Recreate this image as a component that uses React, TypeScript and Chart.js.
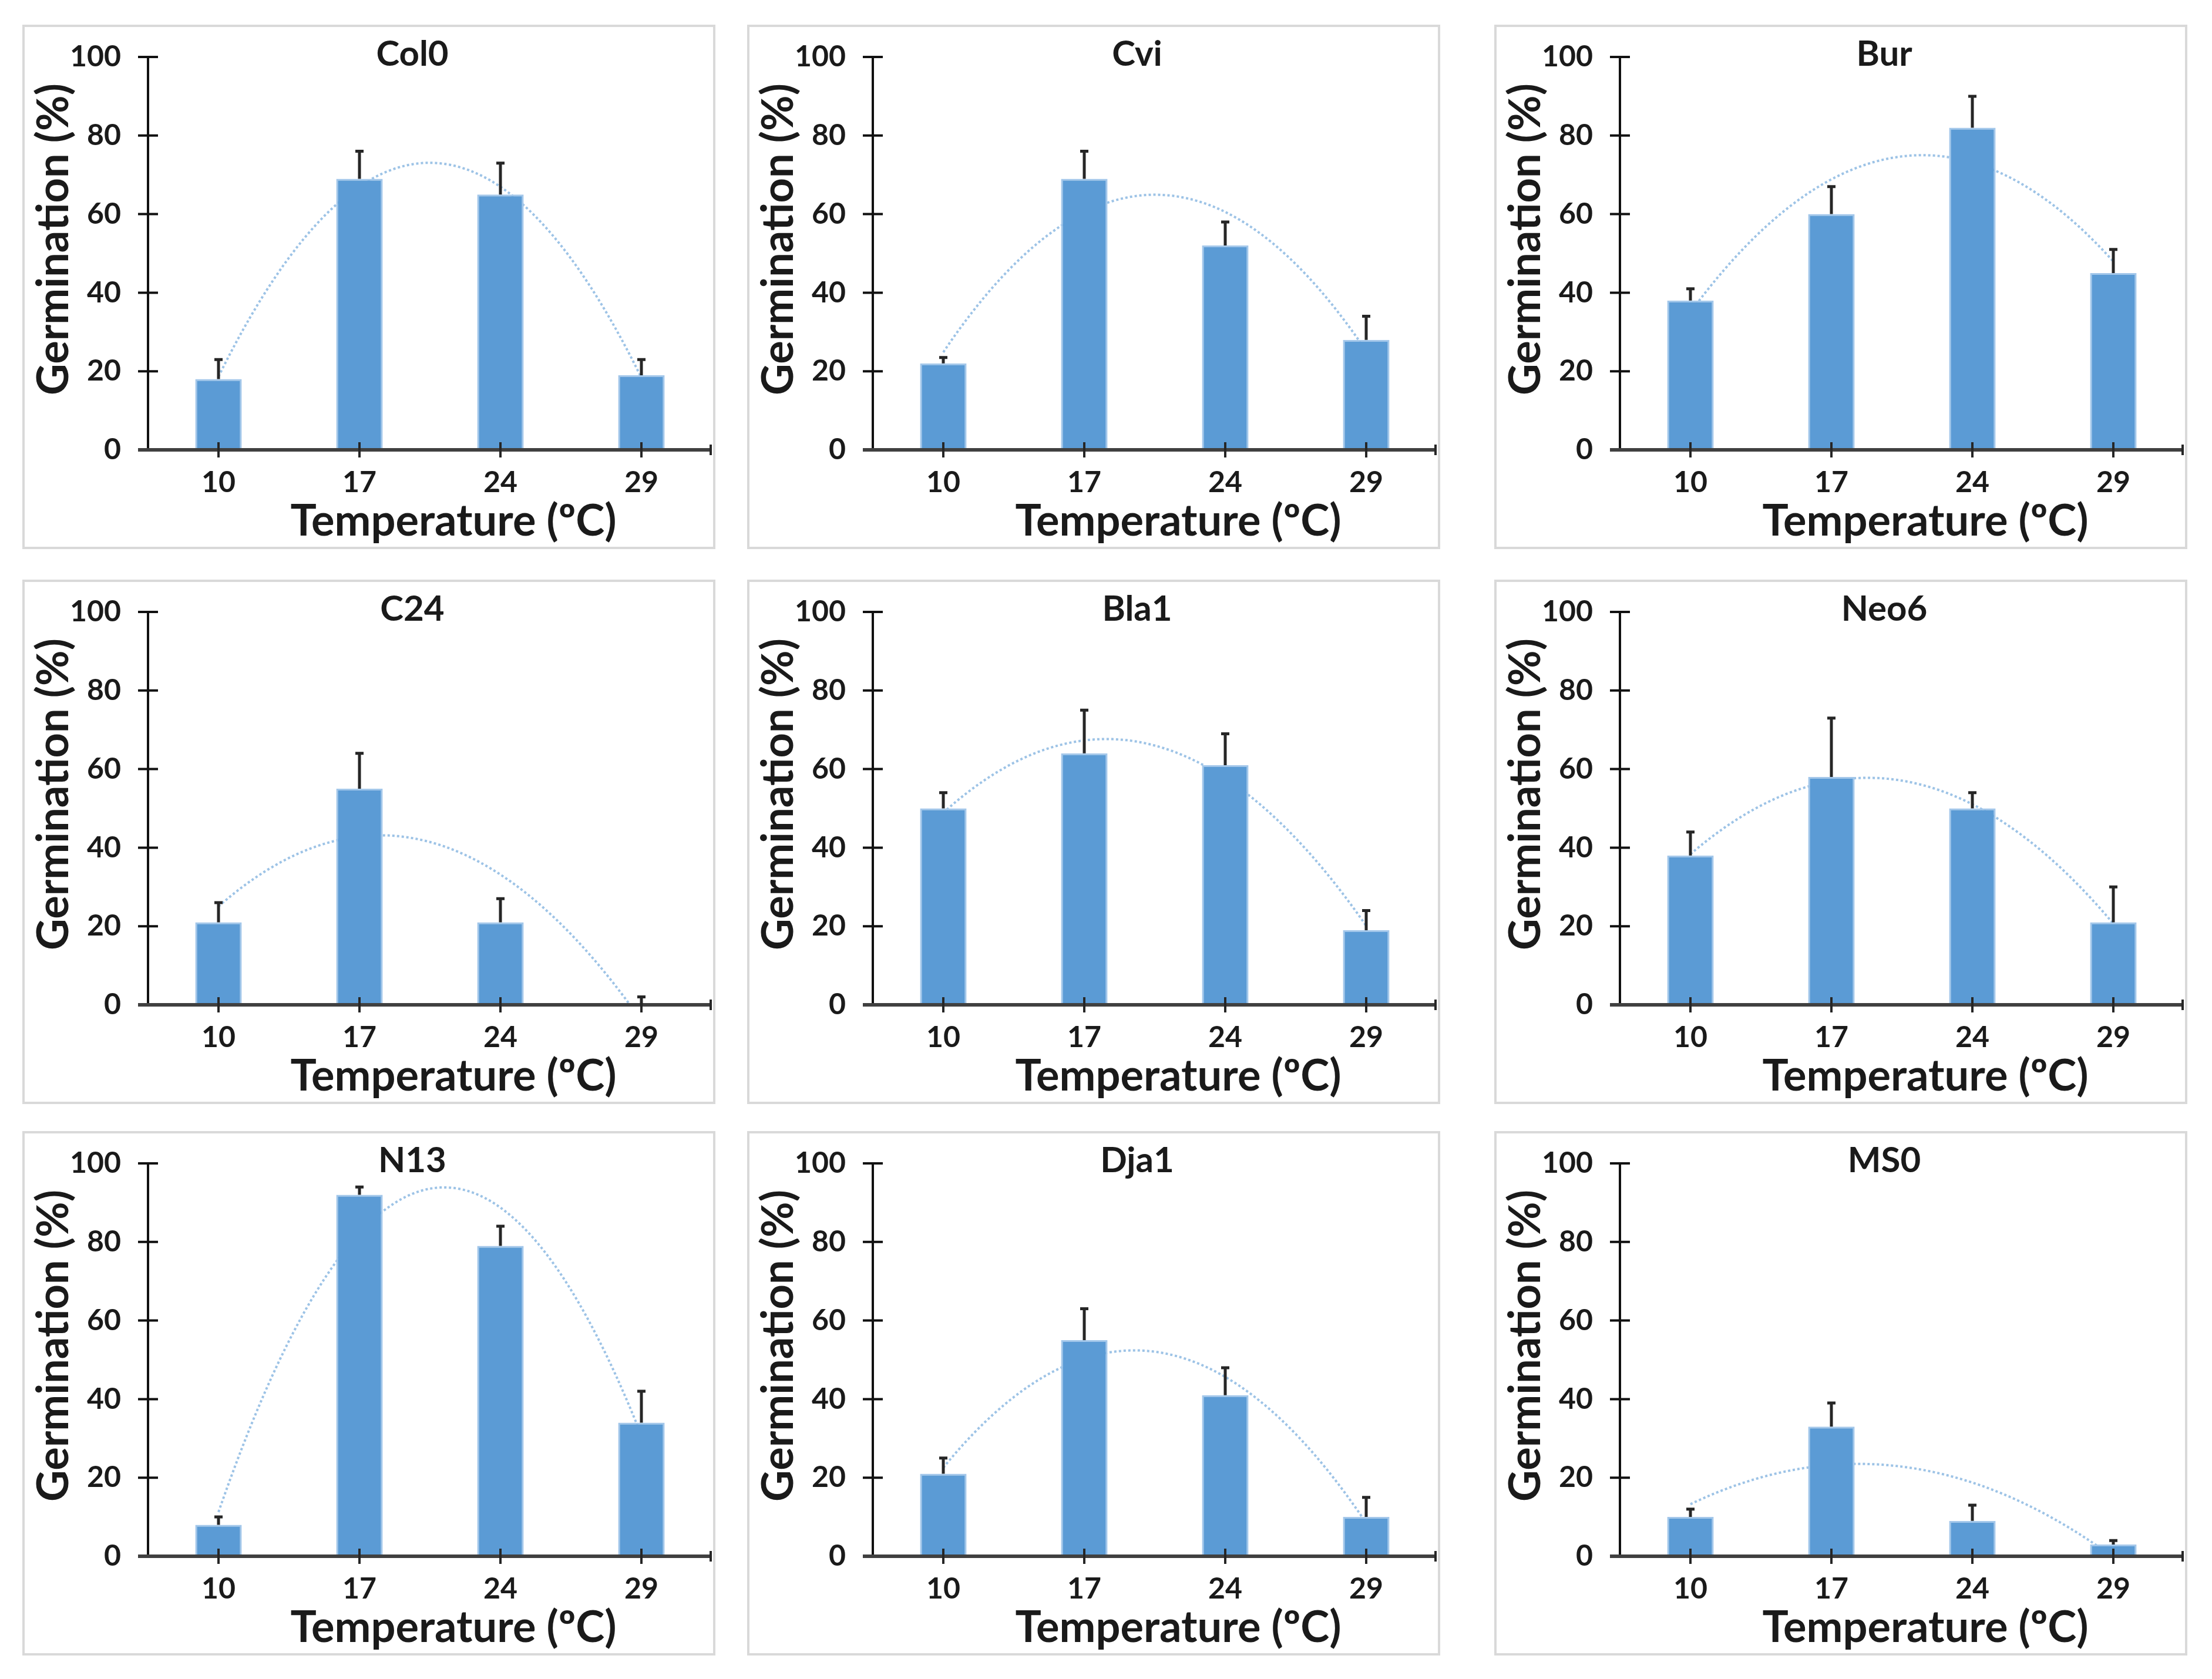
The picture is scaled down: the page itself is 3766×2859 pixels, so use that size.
import { useEffect, useRef } from "react";
import { Chart, registerables } from "chart.js";

Chart.register(...registerables);

// x categories (temperature, ºC)
const temperatures = ["10", "17", "24", "29"];
const yTicks = [0, 20, 40, 60, 80, 100];

// germination (%) per accession, with the upper error bar length
const col0 = [18, 69, 65, 19];
const col0Err = [5, 7, 8, 4];
const cvi = [22, 69, 52, 28];
const cviErr = [1.5, 7, 6, 6];
const bur = [38, 60, 82, 45];
const burErr = [3, 7, 8, 6];
const c24 = [21, 55, 21, 0];
const c24Err = [5, 9, 6, 2];
const bla1 = [50, 64, 61, 19];
const bla1Err = [4, 11, 8, 5];
const neo6 = [38, 58, 50, 21];
const neo6Err = [6, 15, 4, 9];
const n13 = [8, 92, 79, 34];
const n13Err = [2, 2, 5, 8];
const dja1 = [21, 55, 41, 10];
const dja1Err = [4, 8, 7, 5];
const ms0 = [10, 33, 9, 3];
const ms0Err = [2, 6, 4, 1];

const panels = [
  { name: "Col0", values: col0, errors: col0Err },
  { name: "Cvi", values: cvi, errors: cviErr },
  { name: "Bur", values: bur, errors: burErr },
  { name: "C24", values: c24, errors: c24Err },
  { name: "Bla1", values: bla1, errors: bla1Err },
  { name: "Neo6", values: neo6, errors: neo6Err },
  { name: "N13", values: n13, errors: n13Err },
  { name: "Dja1", values: dja1, errors: dja1Err },
  { name: "MS0", values: ms0, errors: ms0Err },
];

const colLefts = [38, 1272, 2544];
const rowTops = [42, 987, 1926];
const PANEL_W = 1180;
const PANEL_H = 893;
const FONT = "Lato, 'Open Sans', sans-serif";
const TEXT = "#1a1a1a";

// least squares y = a + b*x + c*x^2, x = category index (like an Excel poly trendline)
function quadFit(ys: number[]) {
  let n = 0, sx = 0, sx2 = 0, sx3 = 0, sx4 = 0, sy = 0, sxy = 0, sx2y = 0;
  ys.forEach((y, x) => {
    n += 1;
    sx += x;
    sx2 += x * x;
    sx3 += x * x * x;
    sx4 += x * x * x * x;
    sy += y;
    sxy += x * y;
    sx2y += x * x * y;
  });
  const det3 = (m: number[][]) =>
    m[0][0] * (m[1][1] * m[2][2] - m[1][2] * m[2][1]) -
    m[0][1] * (m[1][0] * m[2][2] - m[1][2] * m[2][0]) +
    m[0][2] * (m[1][0] * m[2][1] - m[1][1] * m[2][0]);
  const M = [
    [n, sx, sx2],
    [sx, sx2, sx3],
    [sx2, sx3, sx4],
  ];
  const r = [sy, sxy, sx2y];
  const d = det3(M);
  const col = (k: number) => M.map((row, i) => row.map((v, j) => (j === k ? r[i] : v)));
  return [det3(col(0)) / d, det3(col(1)) / d, det3(col(2)) / d];
}

function GerminationPanel({ name, values, errors, left, top }: any) {
  const canvasRef = useRef<HTMLCanvasElement>(null);

  useEffect(() => {
    if (!canvasRef.current) return;
    const [a, b, c] = quadFit(values);

    const decor = {
      id: "decor",
      beforeDatasetsDraw(chart: any) {
        const { ctx, chartArea, scales } = chart;
        const { x, y } = scales;
        ctx.save();
        ctx.beginPath();
        ctx.rect(chartArea.left, chartArea.top, chartArea.right - chartArea.left, chartArea.bottom - chartArea.top);
        ctx.clip();
        ctx.beginPath();
        const steps = 120;
        for (let i = 0; i <= steps; i++) {
          const t = ((values.length - 1) * i) / steps;
          const px = x.getPixelForValue(t);
          const py = y.getPixelForValue(a + b * t + c * t * t);
          if (i === 0) ctx.moveTo(px, py);
          else ctx.lineTo(px, py);
        }
        ctx.setLineDash([4, 4]);
        ctx.lineWidth = 4;
        ctx.strokeStyle = "#9dc3e6";
        ctx.stroke();
        ctx.restore();
      },
      afterDatasetsDraw(chart: any) {
        const { ctx, chartArea, scales } = chart;
        const { x, y } = scales;
        const y0 = y.getPixelForValue(0);
        ctx.save();
        ctx.setLineDash([]);

        // y axis + cross ticks
        ctx.strokeStyle = "#111";
        ctx.lineWidth = 4;
        ctx.beginPath();
        ctx.moveTo(chartArea.left, y.getPixelForValue(100));
        ctx.lineTo(chartArea.left, y0);
        yTicks.forEach((v) => {
          const py = y.getPixelForValue(v);
          ctx.moveTo(chartArea.left - 17, py);
          ctx.lineTo(chartArea.left + 17, py);
        });
        ctx.stroke();

        // x axis
        ctx.strokeStyle = "#404040";
        ctx.lineWidth = 6;
        ctx.beginPath();
        ctx.moveTo(chartArea.left - 17, y0);
        ctx.lineTo(chartArea.right, y0);
        ctx.stroke();
        ctx.strokeStyle = "#262626";
        ctx.lineWidth = 4;
        ctx.beginPath();
        temperatures.forEach((_, i) => {
          const px = x.getPixelForValue(i);
          ctx.moveTo(px, y0 - 13);
          ctx.lineTo(px, y0 + 13);
        });
        ctx.moveTo(chartArea.right - 2, y0 - 9);
        ctx.lineTo(chartArea.right - 2, y0 + 9);
        ctx.stroke();

        // upper error bars
        const meta = chart.getDatasetMeta(0);
        ctx.strokeStyle = "#262626";
        ctx.lineWidth = 5;
        ctx.beginPath();
        meta.data.forEach((bar: any, i: number) => {
          const pTop = y.getPixelForValue(values[i] + errors[i]);
          ctx.moveTo(bar.x, bar.y);
          ctx.lineTo(bar.x, pTop);
          ctx.moveTo(bar.x - 7, pTop);
          ctx.lineTo(bar.x + 7, pTop);
        });
        ctx.stroke();
        ctx.restore();
      },
      afterDraw(chart: any) {
        const { ctx, chartArea } = chart;
        const cx = (chartArea.left + chartArea.right) / 2;
        const cy = (chartArea.top + chartArea.bottom) / 2;
        ctx.save();
        ctx.fillStyle = TEXT;
        ctx.textAlign = "center";
        ctx.textBaseline = "middle";
        ctx.font = `bold 60px ${FONT}`;
        ctx.fillText(name, cx - 30, chartArea.top - 4);
        ctx.font = `bold 74px ${FONT}`;
        ctx.fillText("Temperature (ºC)", cx + 40, chartArea.bottom + 122);
        ctx.translate(50, cy - 24);
        ctx.rotate(-Math.PI / 2);
        ctx.fillText("Germination (%)", 0, 0);
        ctx.restore();
      },
    };

    const chart = new Chart(canvasRef.current, {
      type: "bar",
      data: {
        labels: temperatures,
        datasets: [
          {
            data: values,
            backgroundColor: "#5b9bd5",
            borderColor: "#a3c7ea",
            borderWidth: 3,
            borderSkipped: "bottom",
            barPercentage: 1,
            categoryPercentage: 0.33,
          },
        ],
      },
      options: {
        animation: false,
        responsive: true,
        maintainAspectRatio: false,
        layout: { padding: { top: 51, right: 2, left: 0, bottom: 0 } },
        plugins: { legend: { display: false }, tooltip: { enabled: false } },
        scales: {
          x: {
            grid: { drawOnChartArea: false, tickLength: 22, tickColor: "rgba(0,0,0,0)", color: "rgba(0,0,0,0)" },
            border: { display: false },
            ticks: { padding: 4, color: TEXT, font: { family: FONT, size: 50, weight: "bold" } },
            afterFit: (s: any) => {
              s.height = 165;
            },
          },
          y: {
            min: 0,
            max: 100,
            grid: { drawOnChartArea: false, tickLength: 38, tickColor: "rgba(0,0,0,0)", color: "rgba(0,0,0,0)" },
            border: { display: false },
            ticks: { stepSize: 20, padding: 8, color: TEXT, font: { family: FONT, size: 50, weight: "bold" } },
            afterFit: (s: any) => {
              s.width = 210;
            },
          },
        },
      },
      plugins: [decor],
    } as any);
    return () => chart.destroy();
  }, [name, values, errors]);

  return (
    <div
      style={{
        position: "absolute",
        left,
        top,
        width: PANEL_W,
        height: PANEL_H,
        border: "4px solid #d9d9d9",
        boxSizing: "border-box",
        background: "#fff",
      }}
    >
      <div style={{ position: "relative", width: "100%", height: "100%" }}>
        <canvas ref={canvasRef} />
      </div>
    </div>
  );
}

export default function App() {
  return (
    <div style={{ position: "absolute", left: 0, top: 0, width: 3766, height: 2859, background: "#fff" }}>
      {panels.map((p, i) => (
        <GerminationPanel
          key={p.name}
          name={p.name}
          values={p.values}
          errors={p.errors}
          left={colLefts[i % 3]}
          top={rowTops[Math.floor(i / 3)]}
        />
      ))}
    </div>
  );
}
